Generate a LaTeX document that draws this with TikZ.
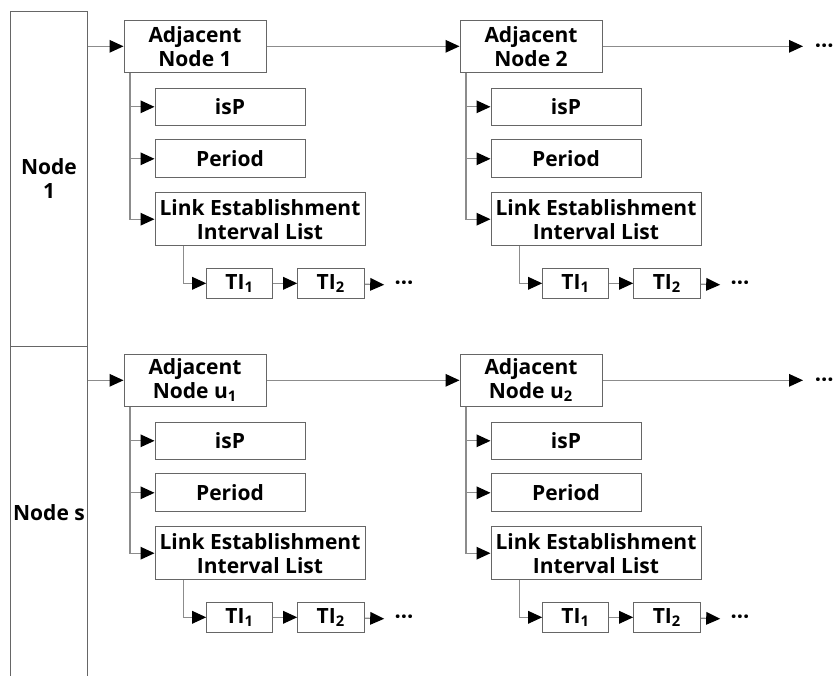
\documentclass[tikz,border=0pt]{standalone}
\usepackage{fontspec}
\setmainfont{Open Sans}
\usetikzlibrary{arrows.meta}

\tikzset{
  box/.style={draw=black!60, line width=0.5pt, fill=white, inner sep=0pt, align=center,
    font=\bfseries\fontsize{10.5}{12}\selectfont},
  dots/.style={inner sep=0pt, yshift=-1pt, font=\bfseries\fontsize{11}{12}\selectfont},
  link/.style={draw=black!45, line width=0.6pt, -{Triangle[length=7pt,width=6.3pt,color=black]}}
}

\begin{document}
\begin{tikzpicture}[x=0.5pt,y=-0.5pt]
\useasboundingbox (0,0) rectangle (837,676);
\node[box, minimum width=38.5pt, minimum height=167.5pt] (n0) at (49,178.5) {Node\\1};
\node[box, minimum width=38.5pt, minimum height=167pt] (n1) at (49,513) {Node s};
\foreach \r in {0,1}{
    \foreach \c in {1,2}{
        \pgfmathsetmacro\dx{336*(\c-1)}
        \pgfmathsetmacro\dy{334*\r}
        \node[box, minimum width=71pt, minimum height=26pt] (a\r\c) at ({195+\dx},{46.3+\dy})
            {Adjacent\\Node \ifnum\r=0 \c\else u\textsubscript{\c}\fi};
        \node[box, minimum width=75pt, minimum height=18.75pt] (p\r\c) at ({230+\dx},{106.8+\dy}) {isP};
        \node[box, minimum width=75pt, minimum height=19pt] (q\r\c) at ({230+\dx},{158.8+\dy}) {Period};
        \node[box, minimum width=105pt, minimum height=26.5pt] (l\r\c) at ({260+\dx},{219.2+\dy})
            {Link Establishment\\Interval List};
        \node[box, minimum width=33pt, minimum height=15pt] (t\r\c) at ({239.7+\dx},{283.3+\dy}) {TI\textsubscript{1}};
        \node[box, minimum width=33.3pt, minimum height=15pt] (s\r\c) at ({331+\dx},{283.3+\dy}) {TI\textsubscript{2}};
        \node[dots] (d\r\c) at ({404+\dx},{283.3+\dy}) {···};
        \draw[link] (a\r\c.south west) ++(6.5,0) |- (p\r\c.west);
        \draw[link] (a\r\c.south west) ++(6.5,0) |- (q\r\c.west);
        \draw[link] (a\r\c.south west) ++(6.5,0) |- (l\r\c.west);
        \draw[link] (l\r\c.south west) ++(29,0) |- (t\r\c.west);
        \draw[link] (t\r\c) -- (s\r\c);
        \draw[link, shorten >=5] (s\r\c) -- (d\r\c);
    }
    \coordinate (e\r) at (803,{46.3+334*\r});
    \node[dots, anchor=east] (m\r) at (834,{46.3+334*\r}) {···};
    \draw[link] (n\r.east |- a\r1.west) -- (a\r1.west);
    \draw[link] (a\r1) -- (a\r2);
    \draw[link] (a\r2) -- (e\r);
}
\end{tikzpicture}
\end{document}
